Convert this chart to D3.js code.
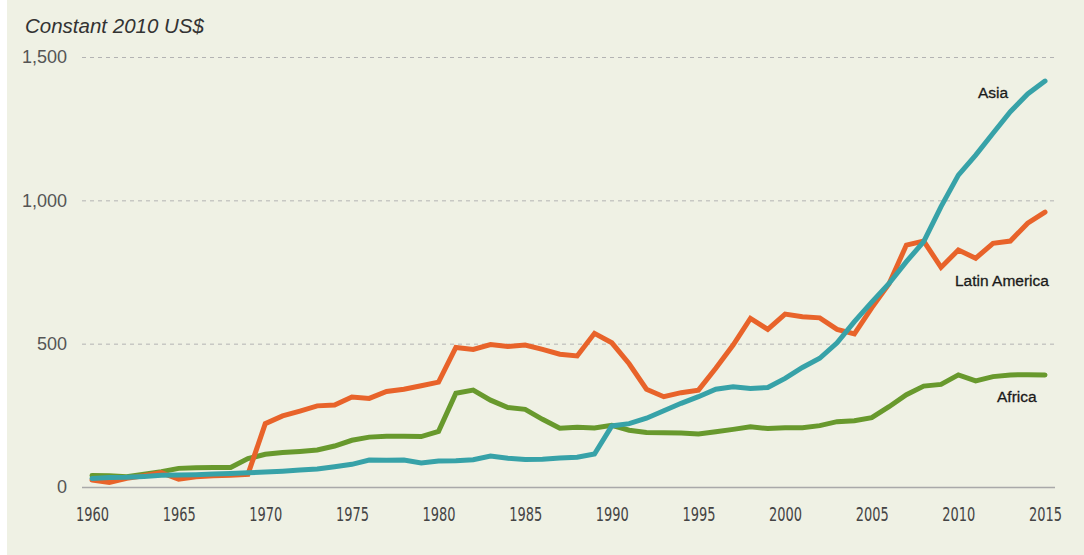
<!DOCTYPE html>
<html>
<head>
<meta charset="utf-8">
<script src="https://cdn.jsdelivr.net/npm/d3@7"></script>
<style>
  html, body { margin: 0; padding: 0; background: #fff; }
  svg { display: block; }
</style>
</head>
<body>
<svg></svg>
<script>
'use strict'

const years = d3.range(1960, 2016)

const asia = [30, 33, 34, 37, 41, 42, 43, 45, 47, 50,
  52, 55, 59, 63, 71, 79, 94, 93, 94, 84,
  91, 92, 95, 108, 100, 96, 97, 101, 104, 115,
  213, 221, 240, 266, 292, 315, 341, 350, 344, 347,
  379, 417, 449, 503, 577, 645, 710, 786, 856, 978,
  1088, 1158, 1234, 1309, 1371, 1416]

const latinAmerica = [24, 16, 30, 39, 50, 27, 36, 39, 41, 44,
  221, 248, 265, 283, 286, 314, 309, 333, 341, 353,
  366, 487, 480, 497, 490, 495, 480, 463, 457, 536,
  503, 430, 341, 315, 329, 338, 414, 495, 588, 550,
  603, 594, 590, 550, 534, 625, 709, 844, 858, 766,
  827, 798, 850, 858, 920, 959]

const africa = [40, 39, 36, 45, 53, 65, 67, 68, 68, 99,
  114, 120, 124, 129, 143, 163, 174, 177, 177, 176,
  194, 327, 338, 303, 277, 271, 236, 205, 208, 206,
  215, 198, 190, 189, 188, 185, 193, 201, 210, 204,
  207, 207, 214, 228, 231, 242, 280, 322, 352, 358,
  391, 370, 385, 391, 392, 391]

const yTicks = [0, 500, 1000, 1500]
const xTicks = d3.range(1960, 2016, 5)
const seriesNames = ['Africa', 'Latin America', 'Asia']
const seriesColors = { 'Africa': '#68992d', 'Latin America': '#e8632a', 'Asia': '#37a2a8' }

const W = 1084, H = 555

const svg = d3.select('svg')
  .attr('width', W)
  .attr('height', H)

// pale panel
svg.append('rect')
  .attr('x', 7).attr('y', 0)
  .attr('width', W - 7).attr('height', H)
  .attr('fill', '#eff1e4')

const xScale = d3.scaleLinear().domain([1960, 2015]).range([92, 1045])
const yScale = d3.scaleLinear().domain([0, 1500]).range([487, 57])

const gridLeft = 82, gridRight = 1055

// y axis with gridlines
const yAxis = svg.append('g')
  .attr('transform', 'translate(' + gridLeft + ',0)')
  .call(
    d3.axisLeft(yScale)
      .tickValues(yTicks)
      .tickSize(-(gridRight - gridLeft))
      .tickPadding(15)
      .tickFormat(d3.format(','))
  )
yAxis.select('.domain').remove()
yAxis.selectAll('.tick line')
  .attr('stroke', '#b3b3b3')
  .attr('stroke-width', 1)
  .attr('stroke-dasharray', d => d === 0 ? null : '4,4')
yAxis.selectAll('.tick')
  .filter(d => d === 0)
  .select('line')
  .attr('stroke', '#a9a9a9')
  .attr('stroke-width', 1.5)
yAxis.selectAll('.tick text')
  .attr('fill', '#555')
  .style('font-family', '"Liberation Sans", Arial, sans-serif')
  .style('font-size', '18px')

// x axis labels
const xAxis = svg.append('g')
  .attr('transform', 'translate(0,' + yScale(0) + ')')
  .call(
    d3.axisBottom(xScale)
      .tickValues(xTicks)
      .tickSize(0)
      .tickPadding(21)
      .tickFormat(d3.format('d'))
  )
xAxis.select('.domain').remove()
xAxis.selectAll('.tick text')
  .attr('fill', '#444')
  .attr('textLength', 33)
  .attr('lengthAdjust', 'spacingAndGlyphs')
  .style('font-family', '"Liberation Sans Narrow", "DejaVu Sans Condensed", sans-serif')
  .style('font-size', '19px')

// unit label
svg.append('text')
  .attr('x', 25)
  .attr('y', 33)
  .attr('fill', '#333')
  .style('font-family', '"Liberation Sans", Arial, sans-serif')
  .style('font-style', 'italic')
  .style('font-size', '20.5px')
  .text('Constant 2010 US$')

const seriesData = {
  'Africa': africa,
  'Latin America': latinAmerica,
  'Asia': asia
}

const line = d3.line()
  .x(d => xScale(d.year))
  .y(d => yScale(d.value))

seriesNames.forEach(name => {
  const pts = years.map((y, i) => ({ year: y, value: seriesData[name][i] }))
  svg.append('path')
    .datum(pts)
    .attr('fill', 'none')
    .attr('stroke', seriesColors[name])
    .attr('stroke-width', 5)
    .attr('stroke-linecap', 'round')
    .attr('stroke-linejoin', 'miter')
    .attr('d', line)
})

// series labels
const labels = [
  { name: 'Asia', x: 978, y: 98 },
  { name: 'Latin America', x: 955, y: 286 },
  { name: 'Africa', x: 997, y: 402 }
]
svg.selectAll('.series-label')
  .data(labels)
  .enter()
  .append('text')
  .attr('class', 'series-label')
  .attr('x', d => d.x)
  .attr('y', d => d.y)
  .attr('fill', '#1a1a1a')
  .style('font-family', '"Liberation Sans", Arial, sans-serif')
  .style('font-size', '15.5px')
  .style('stroke', '#1a1a1a')
  .style('stroke-width', 0.3)
  .text(d => d.name)
</script>
</body>
</html>
